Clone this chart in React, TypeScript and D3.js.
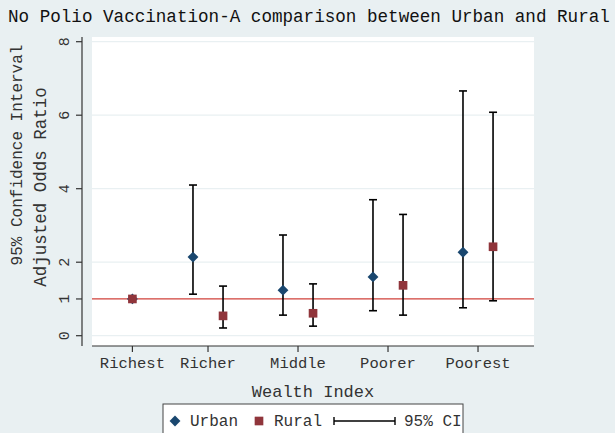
import React, { useEffect, useRef } from "react";
import * as d3 from "d3";

// values
var categories = ["Richest", "Richer", "Middle", "Poorer", "Poorest"];
var categoryX = [1.16, 2, 3, 4, 5];
var urbanOR = [1.0, 2.14, 1.24, 1.6, 2.27];
var urbanLo = [1.0, 1.13, 0.56, 0.68, 0.76];
var urbanHi = [1.0, 4.1, 2.74, 3.7, 6.66];
var ruralOR = [1.0, 0.54, 0.61, 1.37, 2.42];
var ruralLo = [1.0, 0.21, 0.26, 0.56, 0.95];
var ruralHi = [1.0, 1.35, 1.41, 3.3, 6.08];
var yTicks = [0, 1, 2, 4, 6, 8];
var gridTicks = [0, 2, 4, 6, 8];

var W = 615, H = 433;
var bg = "#e9f0f2";
var navy = "#1a476f";
var maroon = "#90353b";
var font = "'Liberation Mono', 'Courier New', monospace";

function App() {
    const ref = useRef<SVGSVGElement>(null);

    useEffect(() => {
        chart();
    }, []);

    function chart() {
        var svg = d3.select(ref.current);
        svg.selectAll("*").remove();

        var x = d3.scaleLinear().domain([0.711, 5.622]).range([92, 534]);
        var y = d3.scaleLinear().domain([0, 8]).range([335.7, 41.7]);
        var off = 0.167;

        svg.append("rect").attr("width", W).attr("height", H).attr("fill", bg);
        // plot region
        svg.append("rect")
            .attr("x", 92).attr("y", 37)
            .attr("width", 442).attr("height", 309)
            .attr("fill", "white");

        // grid
        svg.selectAll(".grid")
            .data(gridTicks)
            .enter().append("line")
            .attr("x1", 92).attr("x2", 534)
            .attr("y1", (d: number) => y(d)).attr("y2", (d: number) => y(d))
            .attr("stroke", bg).attr("stroke-width", 1.2);

        // reference line at OR = 1
        svg.append("line")
            .attr("x1", 92).attr("x2", 534)
            .attr("y1", y(1)).attr("y2", y(1))
            .attr("stroke", "#d0413a").attr("stroke-width", 1.3);

        // y axis
        var ya = svg.append("g").attr("transform", "translate(82,0)");
        ya.append("line").attr("x1", 0).attr("x2", 0).attr("y1", 37).attr("y2", 346)
            .attr("stroke", "#333").attr("stroke-width", 1.2);
        yTicks.forEach((t) => {
            ya.append("line").attr("x1", -6).attr("x2", 0).attr("y1", y(t)).attr("y2", y(t))
                .attr("stroke", "#333").attr("stroke-width", 1.2);
            ya.append("text")
                .attr("transform", `translate(-13,${y(t)}) rotate(-90)`)
                .attr("text-anchor", "middle")
                .attr("font-family", font).attr("font-size", 15)
                .attr("fill", "#333")
                .text(t);
        });

        // x axis
        var xa = svg.append("g").attr("transform", "translate(0,346)");
        xa.append("line").attr("x1", 92).attr("x2", 534).attr("y1", 0).attr("y2", 0)
            .attr("stroke", "#333").attr("stroke-width", 1.2);
        categories.forEach((c, i) => {
            var cx = x(categoryX[i]) + (i === 0 ? 0 : 0);
            xa.append("line").attr("x1", cx).attr("x2", cx).attr("y1", 0).attr("y2", 6)
                .attr("stroke", "#333").attr("stroke-width", 1.2);
            xa.append("text")
                .attr("x", cx).attr("y", 22)
                .attr("text-anchor", "middle")
                .attr("font-family", font).attr("font-size", 15.5)
                .attr("fill", "#333")
                .text(c);
        });

        // error bars
        function ci(xs: number, lo: number, hi: number) {
            svg.append("line").attr("x1", x(xs)).attr("x2", x(xs)).attr("y1", y(lo)).attr("y2", y(hi))
                .attr("stroke", "black").attr("stroke-width", 1.6);
            [lo, hi].forEach((v) => {
                svg.append("line").attr("x1", x(xs) - 4).attr("x2", x(xs) + 4).attr("y1", y(v)).attr("y2", y(v))
                    .attr("stroke", "black").attr("stroke-width", 1.6);
            });
        }
        categories.forEach((c, i) => {
            var ux = i === 0 ? categoryX[i] : categoryX[i] - off;
            var rx = i === 0 ? categoryX[i] : categoryX[i] + off;
            if (urbanHi[i] > urbanLo[i]) ci(ux, urbanLo[i], urbanHi[i]);
            if (ruralHi[i] > ruralLo[i]) ci(rx, ruralLo[i], ruralHi[i]);
        });

        var diamond = d3.symbol().type(d3.symbolDiamond2).size(75);
        var square = d3.symbol().type(d3.symbolSquare).size(75);
        categories.forEach((c, i) => {
            var ux = i === 0 ? categoryX[i] : categoryX[i] - off;
            var rx = i === 0 ? categoryX[i] : categoryX[i] + off;
            svg.append("path").attr("d", diamond()!)
                .attr("transform", `translate(${x(ux)},${y(urbanOR[i])})`)
                .attr("fill", navy);
            svg.append("path").attr("d", square()!)
                .attr("transform", `translate(${x(rx)},${y(ruralOR[i])})`)
                .attr("fill", maroon);
        });

        // titles
        svg.append("text")
            .attr("x", 8).attr("y", 22)
            .attr("font-family", font).attr("font-size", 17.6)
            .attr("fill", "#111")
            .text("No Polio Vaccination-A comparison between Urban and Rural");
        svg.append("text")
            .attr("transform", "translate(22,155) rotate(-90)")
            .attr("text-anchor", "middle")
            .attr("font-family", font).attr("font-size", 16)
            .attr("fill", "#333")
            .text("95% Confidence Interval");
        svg.append("text")
            .attr("transform", "translate(46,187) rotate(-90)")
            .attr("text-anchor", "middle")
            .attr("font-family", font).attr("font-size", 17.5)
            .attr("fill", "#333")
            .text("Adjusted Odds Ratio");
        svg.append("text")
            .attr("x", 313).attr("y", 397)
            .attr("text-anchor", "middle")
            .attr("font-family", font).attr("font-size", 17)
            .attr("fill", "#333")
            .text("Wealth Index");

        // legend
        var lg = svg.append("g");
        lg.append("rect").attr("x", 163).attr("y", 404).attr("width", 300).attr("height", 40)
            .attr("fill", "white").attr("stroke", "#444").attr("stroke-width", 1);
        lg.append("path").attr("d", diamond()!)
            .attr("transform", "translate(175,421)").attr("fill", navy);
        lg.append("text").attr("x", 190).attr("y", 426)
            .attr("font-family", font).attr("font-size", 16).attr("fill", "#333").text("Urban");
        lg.append("path").attr("d", square()!)
            .attr("transform", "translate(259,421)").attr("fill", maroon);
        lg.append("text").attr("x", 274).attr("y", 426)
            .attr("font-family", font).attr("font-size", 16).attr("fill", "#333").text("Rural");
        lg.append("line").attr("x1", 334).attr("x2", 395).attr("y1", 421).attr("y2", 421)
            .attr("stroke", "black").attr("stroke-width", 1.4);
        [334, 395].forEach((px) => {
            lg.append("line").attr("x1", px).attr("x2", px).attr("y1", 417).attr("y2", 425)
                .attr("stroke", "black").attr("stroke-width", 1.4);
        });
        lg.append("text").attr("x", 404).attr("y", 426)
            .attr("font-family", font).attr("font-size", 16).attr("fill", "#333").text("95% CI");
    }

    return (
        <svg ref={ref} width={W} height={H}
            style={{ position: "absolute", left: 0, top: 0, display: "block" }}></svg>
    );
}

export default App;
